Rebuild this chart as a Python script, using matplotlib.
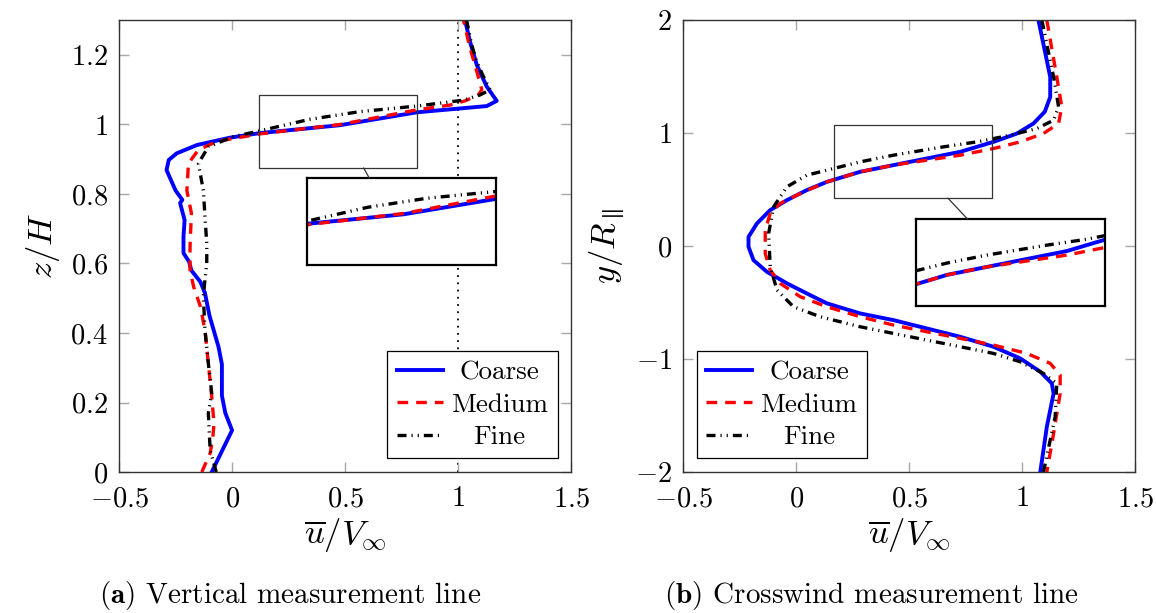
import matplotlib
matplotlib.use("Agg")
import matplotlib.pyplot as plt
from matplotlib.patches import Rectangle, ConnectionPatch
from matplotlib.ticker import FuncFormatter

plt.rcParams['font.family'] = 'serif'
plt.rcParams['font.serif'] = ['cmr10']
plt.rcParams['mathtext.fontset'] = 'cm'
plt.rcParams['axes.formatter.use_mathtext'] = True

# --- (a) vertical measurement line : u/V over z/H ---
za_coarse = [0.0, 0.06, 0.12, 0.17, 0.22, 0.31, 0.36, 0.45, 0.515, 0.547, 0.58, 0.605, 0.63,
             0.677, 0.725, 0.774, 0.783, 0.81, 0.869, 0.898, 0.917, 0.941, 0.962, 0.975, 0.998,
             1.035, 1.053, 1.068, 1.109, 1.171, 1.238, 1.30]
ua_coarse = [-0.09, -0.045, 0.0, -0.03, -0.045, -0.045, -0.06, -0.10, -0.12, -0.14, -0.18, -0.19,
             -0.215, -0.215, -0.21, -0.23, -0.22, -0.25, -0.29, -0.28, -0.245, -0.155, -0.01, 0.12,
             0.478, 0.817, 1.127, 1.171, 1.127, 1.083, 1.053, 1.031]

za_medium = [0.0, 0.054, 0.10, 0.14, 0.217, 0.313, 0.408, 0.476, 0.533, 0.58, 0.648, 0.745, 0.81,
             0.888, 0.927, 0.951, 0.958, 0.973, 1.0, 1.042, 1.056, 1.068, 1.085, 1.10, 1.171,
             1.219, 1.30]
ua_medium = [-0.134, -0.097, -0.085, -0.08, -0.09, -0.105, -0.12, -0.14, -0.17, -0.186, -0.186,
             -0.18, -0.2, -0.193, -0.149, -0.068, -0.01, 0.124, 0.478, 0.817, 0.965, 1.031, 1.09,
             1.105, 1.075, 1.053, 1.024]

za_fine = [0.0, 0.063, 0.169, 0.227, 0.313, 0.41, 0.505, 0.553, 0.60, 0.658, 0.735, 0.81, 0.888,
           0.936, 0.965, 0.982, 1.015, 1.037, 1.053, 1.07, 1.085, 1.10, 1.138, 1.181, 1.229, 1.30]
ua_fine = [-0.07, -0.097, -0.105, -0.09, -0.105, -0.12, -0.127, -0.12, -0.112, -0.112, -0.12,
           -0.127, -0.149, -0.105, 0.006, 0.124, 0.345, 0.566, 0.817, 1.024, 1.097, 1.142, 1.112,
           1.083, 1.06, 1.038]

# --- (b) crosswind measurement line : u/V over y/R ---
yb_coarse = [2.0, 1.498, 1.32, 1.19, 1.086, 0.997, 0.923, 0.835, 0.776, 0.717, 0.658, 0.569, 0.496,
             0.407, 0.319, 0.2, 0.082, -0.006, -0.124, -0.227, -0.33, -0.434, -0.507, -0.596,
             -0.655, -0.729, -0.803, -0.891, -0.994, -1.112, -1.215, -1.304, -1.6, -2.0]
ub_coarse = [1.072, 1.124, 1.124, 1.10, 1.05, 0.977, 0.873, 0.726, 0.578, 0.43, 0.283, 0.136, 0.047,
             -0.041, -0.115, -0.174, -0.211, -0.211, -0.189, -0.13, -0.041, 0.062, 0.136, 0.283,
             0.43, 0.578, 0.726, 0.873, 0.991, 1.08, 1.131, 1.139, 1.109, 1.08]

yb_medium = [2.0, 1.498, 1.233, 1.086, 0.997, 0.923, 0.864, 0.805, 0.761, 0.717, 0.658, 0.569, 0.466,
             0.378, 0.289, 0.142, -0.065, -0.212, -0.33, -0.448, -0.537, -0.625, -0.699, -0.758,
             -0.817, -0.876, -0.95, -1.038, -1.142, -1.304, -1.658, -2.0]
ub_medium = [1.109, 1.153, 1.175, 1.161, 1.094, 0.991, 0.873, 0.726, 0.578, 0.43, 0.283, 0.136, 0.018,
             -0.071, -0.115, -0.137, -0.137, -0.115, -0.071, 0.018, 0.136, 0.283, 0.43, 0.578,
             0.726, 0.873, 1.02, 1.124, 1.168, 1.168, 1.139, 1.109]

yb_fine = [2.0, 1.498, 1.233, 1.115, 1.041, 0.982, 0.923, 0.879, 0.805, 0.746, 0.687, 0.628, 0.525,
           0.348, 0.112, -0.183, -0.389, -0.537, -0.625, -0.714, -0.773, -0.832, -0.891, -0.95,
           -1.024, -1.127, -1.215, -1.51, -2.0]
ub_fine = [1.087, 1.139, 1.161, 1.139, 1.065, 0.947, 0.8, 0.652, 0.43, 0.283, 0.165, 0.047, -0.041,
           -0.1, -0.122, -0.115, -0.085, -0.012, 0.106, 0.283, 0.43, 0.578, 0.726, 0.873, 0.991,
           1.094, 1.153, 1.146, 1.094]

labels = ['Coarse', 'Medium', 'Fine']
xticks = [-0.5, 0, 0.5, 1, 1.5]
yticks_a = [0, 0.2, 0.4, 0.6, 0.8, 1.0, 1.2]
yticks_b = [-2, -1, 0, 1, 2]
zoom_a = (0.12, 0.82, 0.875, 1.085)
zoom_b = (0.168, 0.867, 0.425, 1.07)

styles = [dict(color='#0000ff', lw=2.8, ls='-'),
          dict(color='#ff0000', lw=2.4, ls=(0, (3.2, 2.4))),
          dict(color='black', lw=2.4, ls=(0, (2.7, 1.5, 0.35, 1.5, 0.35, 1.5)))]

fmt = FuncFormatter(lambda v, p: f'${v:g}$')

fig = plt.figure(figsize=(11.56, 6.13), dpi=100)
ax1 = fig.add_axes([0.103, 0.230, 0.391, 0.737])
ax2 = fig.add_axes([0.591, 0.230, 0.391, 0.737])


def style_axes(ax):
    for s in ax.spines.values():
        s.set_color('#333333')
        s.set_linewidth(1.0)
    ax.tick_params(direction='in', top=True, right=True, length=7, width=1,
                   color='#a8a8a8', labelsize=20.5, pad=8)
    ax.tick_params(axis='x', pad=10)
    ax.xaxis.set_major_formatter(fmt)
    ax.yaxis.set_major_formatter(fmt)


data_a = [(ua_coarse, za_coarse), (ua_medium, za_medium), (ua_fine, za_fine)]
data_b = [(ub_coarse, yb_coarse), (ub_medium, yb_medium), (ub_fine, yb_fine)]

for ax, data, yt, ylim, zb, ibounds, fr, ylab in [
        (ax1, data_a, yticks_a, (0, 1.3), zoom_a, [0.416, 0.458, 0.418, 0.192], (0.66, 0.33), r'$z/H$'),
        (ax2, data_b, yticks_b, (-2, 2), zoom_b, [0.515, 0.367, 0.418, 0.192], (0.72, 0.275), r'$y/R_{\parallel}$')]:
    style_axes(ax)
    hs = []
    for (u, y), st in zip(data, styles):
        h, = ax.plot(u, y, **st)
        hs.append(h)
    ax.set_xlim(-0.5, 1.5)
    ax.set_ylim(*ylim)
    ax.set_xticks(xticks)
    ax.set_yticks(yt)
    ax.set_xlabel(r'$\overline{u}/V_{\infty}$', fontsize=25, labelpad=3)
    ax.set_ylabel(ylab, fontsize=25, labelpad=6)

    x0, x1, y0, y1 = zb
    ax.add_patch(Rectangle((x0, y0), x1 - x0, y1 - y0, fill=False, ec='#333333', lw=0.9, zorder=4))
    ins = ax.inset_axes(ibounds)
    for (u, y), st in zip(data, styles):
        ins.plot(u, y, **st)
    ins.set_xlim(x0, x1)
    ins.set_ylim(y0, y1)
    ins.set_xticks([])
    ins.set_yticks([])
    for s in ins.spines.values():
        s.set_linewidth(1.6)
        s.set_color('black')
    con = ConnectionPatch(xyA=(x0 + fr[0] * (x1 - x0), y0), coordsA=ax.transData,
                          xyB=(fr[1], 1.0), coordsB=ins.transAxes, color='#333333', lw=0.9)
    fig.add_artist(con)

    loc = 'lower right' if ax is ax1 else 'lower left'
    leg = ax.legend(hs, labels, loc=loc, fontsize=19.5, fancybox=False, framealpha=1,
                    edgecolor='black', handlelength=1.7, handletextpad=0.3,
                    borderpad=0.35, labelspacing=0.3, borderaxespad=0.5)
    leg.get_frame().set_linewidth(0.9)
    ax._my_leg = leg

ax1.axvline(1.0, color='black', lw=1.3, ls=(0, (1, 3)), zorder=1)

fig.text(0.251, 0.016, r'$\mathbf{(a)}$ Vertical measurement line', fontsize=21,
         ha='center', va='baseline')
fig.text(0.754, 0.016, r'$\mathbf{(b)}$ Crosswind measurement line', fontsize=21,
         ha='center', va='baseline')

# centre legend labels like pgfplots does
fig.canvas.draw()
r = fig.canvas.get_renderer()
for ax in (ax1, ax2):
    texts = ax._my_leg.get_texts()
    widths = [t.get_window_extent(r).width for t in texts]
    wmax = max(widths)
    for t, w in zip(texts, widths):
        t.set_x((wmax - w) / 2)

fig.savefig('out.png', dpi=100, facecolor='white')
